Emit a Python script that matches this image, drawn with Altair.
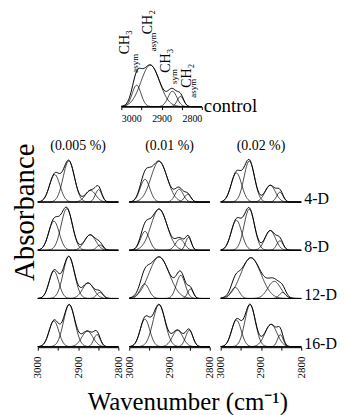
import numpy as np
import pandas as pd
import altair as alt

alt.data_transformers.disable_max_rows()

SERIF = "Liberation Serif"

# sampling grid of wavenumbers (cm-1)
wn = np.arange(3000, 2799, -2)

concs = ["(0.005 %)", "(0.01 %)", "(0.02 %)"]
days = ["4-D", "8-D", "12-D", "16-D"]

# ---- control spectrum: four fitted bands (centre, height, width) ----
ctrl_center = [2962, 2928, 2873, 2853]
ctrl_amp = [0.50, 0.97, 0.36, 0.24]
ctrl_sigma = [11, 23, 11, 8]

# ---- treated samples: per day (4-D, 8-D, 12-D, 16-D) ----
ctr_0005 = [[2958, 2923, 2869, 2849], [2960, 2928, 2870, 2846], [2960, 2923, 2875, 2846], [2960, 2922, 2877, 2853]]
amp_0005 = [[0.64, 0.96, 0.27, 0.29], [0.68, 0.97, 0.36, 0.12], [0.64, 0.98, 0.36, 0.14], [0.60, 0.98, 0.36, 0.28]]
sig_0005 = [[13, 14, 13, 8], [13, 14, 14, 8], [12, 14, 14, 8], [12, 14, 14, 8]]

ctr_001 = [[2961, 2926, 2876, 2855], [2961, 2926, 2874, 2853], [2962, 2926, 2872, 2848], [2961, 2926, 2880, 2851]]
amp_001 = [[0.53, 0.95, 0.30, 0.18], [0.44, 0.96, 0.26, 0.30], [0.34, 0.97, 0.54, 0.22], [0.64, 0.98, 0.38, 0.38]]
sig_001 = [[12, 20, 10, 8], [11, 20, 11, 7], [11, 25, 11, 7], [12, 15, 13, 9]]

ctr_002 = [[2961, 2929, 2877, 2853], [2961, 2929, 2877, 2853], [2964, 2925, 2867, 2846], [2961, 2927, 2875, 2852]]
amp_002 = [[0.68, 0.96, 0.39, 0.23], [0.70, 0.96, 0.46, 0.22], [0.26, 0.95, 0.40, 0.14], [0.62, 0.98, 0.52, 0.28]]
sig_002 = [[13, 13, 13, 8], [13, 13, 13, 8], [10, 25, 16, 8], [12, 13, 15, 7]]

# band labels on the control panel
ann_text = ["CH\u2083", "asym", "CH\u2082", "asym", "CH\u2083", "sym", "CH\u2082", "asym"]
ann_x = [2990, 2965, 2934, 2921, 2888, 2868, 2837, 2822]
ann_y = [1.22, 0.79, 1.69, 1.29, 0.79, 0.53, 0.44, 0.21]
ann_big = [1, 0, 1, 0, 1, 0, 1, 0]

tick_values = [3000, 2950, 2900, 2850, 2800]


def panel_rows(ctr, amp, sig, extra):
    out = []
    comps = []
    for k in range(4):
        y = amp[k] * np.exp(-((wn - ctr[k]) ** 2) / (2.0 * sig[k] ** 2))
        comps.append(y)
        for x, v in zip(wn, y):
            out.append(dict(extra, series=f"band{k}", wn=int(x), a=round(float(v), 4)))
    tot = np.sum(comps, axis=0)
    for x, v in zip(wn, tot):
        out.append(dict(extra, series="sum", wn=int(x), a=round(float(v), 4)))
    for x in (3000, 2800):
        out.append(dict(extra, series="base", wn=x, a=0.0))
    return out


ctrl_df = pd.DataFrame(panel_rows(ctrl_center, ctrl_amp, ctrl_sigma, {"lab": "control"}))

grid_rows = []
for conc, C, A, S in [(concs[0], ctr_0005, amp_0005, sig_0005),
                      (concs[1], ctr_001, amp_001, sig_001),
                      (concs[2], ctr_002, amp_002, sig_002)]:
    for i, day in enumerate(days):
        grid_rows += panel_rows(C[i], A[i], S[i], {"conc": conc, "day": day})
grid_df = pd.DataFrame(grid_rows)

ann_df = pd.DataFrame({"t": ann_text, "wn": ann_x, "a": ann_y, "big": ann_big})

W, H = 81, 44
xscale = alt.Scale(domain=[3000, 2800])
yscale = alt.Scale(domain=[0, 1.02])
label_expr = "datum.value % 100 == 0 ? datum.label : ''"

ctrl_axis = alt.Axis(values=tick_values, labelExpr=label_expr, format="d", labelAngle=0,
                     labelFont=SERIF, labelFontSize=10, labelColor="black", labelPadding=4,
                     tickSize=3, tickColor="black", domainColor="black", grid=False, title="")
grid_axis = alt.Axis(values=tick_values, labelExpr=label_expr, format="d", labelAngle=270,
                     labelFont=SERIF, labelFontSize=11, labelColor="black", labelPadding=6,
                     tickSize=3, tickColor="black", domainColor="black", grid=False, title="")

X_c = alt.X("wn:Q", scale=xscale, axis=ctrl_axis)
X_g = alt.X("wn:Q", scale=xscale, axis=grid_axis)
Y = alt.Y("a:Q", scale=yscale, axis=None)

# ---------------- control panel ----------------
cb = alt.Chart(ctrl_df)
c_base = cb.mark_line(color="#222", strokeWidth=1).encode(x=X_c, y=Y).transform_filter(
    "datum.series == 'base'")
c_bands = cb.mark_line(color="black", strokeWidth=0.7).encode(
    x=X_c, y=Y, detail="series:N").transform_filter(
    "datum.series != 'sum' && datum.series != 'base'")
c_sum = cb.mark_line(color="black", strokeWidth=1.0).encode(x=X_c, y=Y).transform_filter(
    "datum.series == 'sum'")
c_label = cb.mark_text(align="left", baseline="alphabetic", dx=2, dy=5, font=SERIF, fontSize=19,
                       color="black").encode(x=X_c, y=Y, text="lab:N").transform_filter(
    "datum.series == 'base' && datum.wn == 2800")
ab = alt.Chart(ann_df)
c_big = ab.mark_text(angle=270, align="left", baseline="middle", font=SERIF, fontSize=14,
                     color="black").encode(x=X_c, y=Y, text="t:N").transform_filter("datum.big == 1")
c_small = ab.mark_text(angle=270, align="left", baseline="middle", font=SERIF, fontSize=9,
                       color="black").encode(x=X_c, y=Y, text="t:N").transform_filter("datum.big == 0")
control = alt.layer(c_base, c_bands, c_sum, c_label, c_big, c_small).properties(width=W, height=H)

spacer = alt.Chart(pd.DataFrame({"v": [0]})).mark_point(opacity=0).encode(
    x=alt.value(0), y=alt.value(0)).properties(width=81, height=10)

top = alt.hconcat(spacer, control, spacing=0)

# ---------------- grid of treated samples ----------------
g_base = alt.Chart().mark_line(color="#222", strokeWidth=1).encode(x=X_g, y=Y).transform_filter(
    "datum.series == 'base'")
g_bands = alt.Chart().mark_line(color="black", strokeWidth=0.7).encode(
    x=X_g, y=Y, detail="series:N").transform_filter(
    "datum.series != 'sum' && datum.series != 'base'")
g_sum = alt.Chart().mark_line(color="black", strokeWidth=1.0).encode(x=X_g, y=Y).transform_filter(
    "datum.series == 'sum'")
g_day = alt.Chart().mark_text(align="left", baseline="alphabetic", dx=3, dy=2, font=SERIF,
                              fontSize=16, color="black").encode(
    x=X_g, y=Y, text="day:N").transform_filter(
    "datum.series == 'base' && datum.wn == 2800 && datum.conc == '(0.02 %)'")

grid = alt.layer(g_base, g_bands, g_sum, g_day, data=grid_df).properties(width=W, height=H).facet(
    row=alt.Row("day:N", sort=days, title="", header=alt.Header(labels=False)),
    column=alt.Column("conc:N", sort=concs, title="", header=alt.Header(
        labelFont=SERIF, labelFontSize=14, labelColor="black", labelPadding=5)),
    spacing={"row": 4.5, "column": 11}, bounds="flush").properties(
    title=alt.TitleParams(text="Absorbance", orient="left", anchor="end", font=SERIF,
                          fontSize=29, fontWeight="normal", color="black", offset=-8, dx=-4))

chart = alt.vconcat(top, grid, spacing=16, center=False).properties(
    padding={"left": 2, "top": 0, "right": 0, "bottom": 0},
    title=alt.TitleParams(text="Wavenumber (cm\u207b\u00b9)", orient="bottom", anchor="middle",
                          font=SERIF, fontSize=25, fontWeight="normal", color="black",
                          offset=12, dx=14)
).configure_view(strokeWidth=0)

chart.save("out.html", embed_options={"renderer": "svg", "actions": False})
